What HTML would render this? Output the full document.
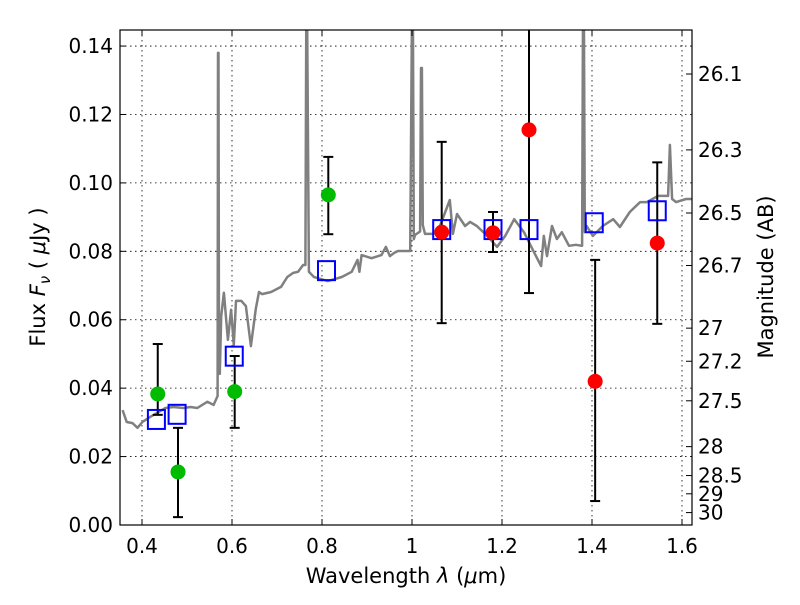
<!DOCTYPE html>
<html><head><meta charset="utf-8"><style>
body{margin:0;background:#fff}
svg text{font-family:"DejaVu Sans","Liberation Sans",sans-serif;fill:#000}
</style></head><body>
<svg id="chart" width="800" height="600" viewBox="0 0 800 600" xmlns="http://www.w3.org/2000/svg">
<defs><clipPath id="clip"><rect x="120" y="30" width="572" height="495"/></clipPath></defs>
<rect width="800" height="600" fill="#fff"/>
<g id="grid"></g>
<g id="spec" clip-path="url(#clip)"></g>
<g id="marks" clip-path="url(#clip)"></g>
<rect x="120" y="30" width="572" height="495" fill="none" stroke="#000" stroke-width="1.2"/>
<g id="axes"></g>
<text x="406" y="583" font-size="21" text-anchor="middle">Wavelength  <tspan font-style="italic">λ</tspan> (<tspan font-style="italic">μ</tspan>m)</text>
<text transform="translate(45,277) rotate(-90)" font-size="21" text-anchor="middle">Flux  <tspan font-style="italic">F</tspan><tspan font-style="italic" font-size="15" dy="5">ν</tspan><tspan dy="-5"> ( </tspan><tspan font-style="italic">μ</tspan>Jy )</text>
<text transform="translate(773,277) rotate(-90)" font-size="21" text-anchor="middle">Magnitude (AB)</text>
</svg>
<script>
const xTicks=[0.4,0.6,0.8,1.0,1.2,1.4,1.6];
const xTickLabels=["0.4","0.6","0.8","1","1.2","1.4","1.6"];
const yTicks=[0,0.02,0.04,0.06,0.08,0.10,0.12,0.14];
const yTickLabels=["0.00","0.02","0.04","0.06","0.08","0.10","0.12","0.14"];
const magTicks=[26.1,26.3,26.5,26.7,27,27.2,27.5,28,28.5,29,30];
const magTickLabels=["26.1","26.3","26.5","26.7","27","27.2","27.5","28","28.5","29","30"];
const specWave=[0.357,0.366,0.379,0.390,0.401,0.418,0.434,0.452,0.470,0.492,0.508,0.523,0.545,0.559,0.568,0.569,0.570,0.571,0.573,0.576,0.582,0.591,0.598,0.604,0.609,0.614,0.621,0.631,0.642,0.653,0.660,0.667,0.687,0.709,0.723,0.736,0.747,0.758,0.763,0.765,0.767,0.771,0.782,0.813,0.844,0.866,0.879,0.883,0.888,0.910,0.932,0.942,0.951,0.960,0.969,0.982,0.996,1.000,1.002,1.004,1.007,1.018,1.020,1.022,1.024,1.029,1.047,1.062,1.084,1.091,1.100,1.118,1.129,1.144,1.167,1.189,1.207,1.227,1.249,1.271,1.287,1.293,1.300,1.311,1.322,1.333,1.349,1.364,1.378,1.380,1.382,1.384,1.388,1.402,1.424,1.447,1.462,1.484,1.507,1.522,1.547,1.569,1.573,1.578,1.587,1.609,1.622];
const specFlux=[0.0336,0.0301,0.0298,0.0284,0.0301,0.0316,0.0328,0.0342,0.0345,0.0342,0.0345,0.0342,0.0360,0.0351,0.0377,0.1380,0.1380,0.0630,0.0442,0.0610,0.0679,0.0541,0.0629,0.0526,0.0655,0.0655,0.0655,0.0640,0.0523,0.0632,0.0681,0.0675,0.0681,0.0696,0.0725,0.0737,0.0740,0.0760,0.0760,0.1500,0.1500,0.0740,0.0725,0.0713,0.0725,0.0740,0.0775,0.0740,0.0789,0.0780,0.0789,0.0813,0.0786,0.0795,0.0801,0.0801,0.0801,0.1500,0.1500,0.0835,0.0848,0.0858,0.1336,0.1336,0.0877,0.0851,0.0851,0.0874,0.0950,0.0851,0.0909,0.0874,0.0886,0.0874,0.0845,0.0813,0.0845,0.0894,0.0856,0.0798,0.0757,0.0845,0.0786,0.0874,0.0836,0.0856,0.0816,0.0819,0.0816,0.1500,0.1500,0.0856,0.0874,0.0845,0.0874,0.0894,0.0871,0.0915,0.0944,0.0944,0.0962,0.0962,0.1111,0.0953,0.0944,0.0953,0.0953];
const photWave=[0.435,0.480,0.606,0.814,1.066,1.180,1.260,1.407,1.545];
const photFlux=[0.0383,0.0155,0.0390,0.0965,0.0856,0.0854,0.1155,0.0420,0.0824];
const errLow=[0.0322,0.0023,0.0284,0.0850,0.0590,0.0798,0.0678,0.0070,0.0588];
const errHigh=[0.0529,0.0284,0.0494,0.1076,0.1120,0.0915,0.1600,0.0775,0.1060];
const photColor=["#00bb00","#00bb00","#00bb00","#00bb00","#ff0000","#ff0000","#ff0000","#ff0000","#ff0000"];
const modelWave=[0.432,0.478,0.605,0.810,1.066,1.180,1.260,1.405,1.545];
const modelFlux=[0.0310,0.0325,0.0495,0.0745,0.0865,0.0865,0.0865,0.0885,0.0920];

const NS="http://www.w3.org/2000/svg";
const X=v=>142+(v-0.4)*450;
const Y=v=>525-v*3421;
function mk(tag,parent,attrs){const e=document.createElementNS(NS,tag);for(const k in attrs)e.setAttribute(k,attrs[k]);parent.appendChild(e);return e;}
const grid=document.getElementById('grid'),axes=document.getElementById('axes'),spec=document.getElementById('spec'),marks=document.getElementById('marks');
xTicks.forEach((t,i)=>{
 const g=mk('line',grid,{x1:X(t),x2:X(t),y1:30,y2:525,stroke:'#000','stroke-width':0.8,'stroke-dasharray':'1.5,3.5'});
 
 
 mk('line',axes,{x1:X(t),x2:X(t),y1:525,y2:519,stroke:'#000'});
 mk('line',axes,{x1:X(t),x2:X(t),y1:30,y2:36,stroke:'#000'});
 const l=mk('text',axes,{x:X(t),y:553,'font-size':20,'text-anchor':'middle'});l.textContent=xTickLabels[i];
 
 
});
yTicks.forEach((t,i)=>{
 if(t>0){const g=mk('line',grid,{x1:120,x2:692,y1:Y(t),y2:Y(t),stroke:'#000','stroke-width':0.8,'stroke-dasharray':'1.5,3.5'});
 
 }
 mk('line',axes,{x1:120,x2:126,y1:Y(t),y2:Y(t),stroke:'#000'});
 const l=mk('text',axes,{x:113,y:Y(t)+7,'font-size':20,'text-anchor':'end'});l.textContent=yTickLabels[i];
 
 
});
magTicks.forEach((m,i)=>{
 const f=Math.pow(10,(23.9-m)/2.5);const y=Y(f);
 mk('line',axes,{x1:686,x2:692,y1:y,y2:y,stroke:'#000'});
 const l=mk('text',axes,{x:698,y:y+7,'font-size':20});l.textContent=magTickLabels[i];
 
 
});
let d='';specWave.forEach((w,i)=>{d+=(i?'L':'M')+X(w).toFixed(1)+','+Y(specFlux[i]).toFixed(1);});
const sp=mk('path',spec,{d:d,fill:'none',stroke:'#808080','stroke-width':2.5,'stroke-linejoin':'round'});


photWave.forEach((w,i)=>{
 const x=X(w);
 const eb=mk('line',marks,{x1:x,x2:x,y1:Y(errLow[i]),y2:Y(errHigh[i]),stroke:'#000','stroke-width':2});
 
 
 mk('line',marks,{x1:x-5,x2:x+5,y1:Y(errLow[i]),y2:Y(errLow[i]),stroke:'#000','stroke-width':2});
 mk('line',marks,{x1:x-5,x2:x+5,y1:Y(errHigh[i]),y2:Y(errHigh[i]),stroke:'#000','stroke-width':2});
});
modelWave.forEach((w,i)=>{
 const r=mk('rect',marks,{x:X(w)-8.5,y:Y(modelFlux[i])-9,width:17,height:19,fill:'none',stroke:'#0000ff','stroke-width':2});
 
 
});
photWave.forEach((w,i)=>{
 const c=mk('circle',marks,{cx:X(w),cy:Y(photFlux[i]),r:7.5,fill:photColor[i]});
 
 
});
</script>
</body></html>
